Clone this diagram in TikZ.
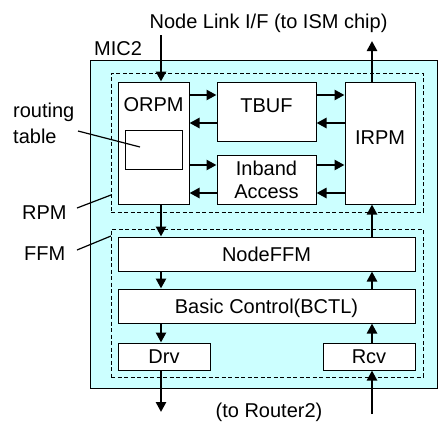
\documentclass[tikz,border=0pt]{standalone}
\usepackage{fontspec}
\setmainfont{Liberation Sans}
\usetikzlibrary{arrows.meta}
\definecolor{miccyan}{RGB}{204,255,255}
\begin{document}
\begin{tikzpicture}[x=1pt,y=-1pt,
  txt/.style={inner sep=0pt, font=\fontsize{20}{23}\selectfont},
  box/.style={txt, draw=black, line width=1pt, fill=white},
  dashbox/.style={draw=black, line width=1pt, dash pattern=on 4pt off 2.5pt, inner sep=0pt},
  flow/.style={line width=2.6pt, -{Triangle[length=10pt,width=10pt]}},
  leader/.style={line width=1.2pt}]
\useasboundingbox (0,0) rectangle (443,423);
% outer MIC2 block
\node[draw=black, line width=1pt, fill=miccyan, inner sep=0pt, minimum width=347pt, minimum height=328pt] (mic) at (263.5,224) {};
% dashed groups
\node[dashbox, minimum width=312pt, minimum height=139pt] (rpm) at (267,142.5) {};
\node[dashbox, minimum width=312pt, minimum height=148pt] (ffm) at (267,303) {};
% RPM blocks
\node[box, minimum width=71pt, minimum height=122pt] (orpm) at (153.5,143) {};
\node[txt, anchor=base] (orpmtxt) at (153.5,111.5) {ORPM};
\node[draw=black, line width=1pt, inner sep=0pt, minimum width=57pt, minimum height=39pt] (rtbox) at (153.5,149.5) {};
\node[box, minimum width=70pt, minimum height=122pt] (irpm) at (380,143) {\raisebox{5pt}[\height][\depth]{IRPM}};
\node[box, minimum width=99pt, minimum height=59pt] (tbuf) at (266.5,111.5) {\raisebox{6pt}[\height][\depth]{TBUF}};
\node[box, minimum width=99pt, minimum height=49pt, align=center] (inband) at (266.5,179.5) {Inband\\Access};
% FFM blocks
\node[box, minimum width=297pt, minimum height=34pt] (nodeffm) at (266.5,254) {NodeFFM};
\node[box, minimum width=297pt, minimum height=34pt, text height=14pt, text depth=0pt] (bctl) at (266.5,306) {Basic Control(BCTL)};
\node[box, minimum width=92pt, minimum height=27pt] (drv) at (164,356.5) {Drv};
\node[box, minimum width=92pt, minimum height=27pt] (rcv) at (369,356.5) {Rcv};
% labels
\node[txt, anchor=base] (nli) at (268.5,28) {Node Link I/F (to ISM chip)};
\node[txt, anchor=base west] (mic2) at (94,55.5) {MIC2};
\node[txt, anchor=base west] (rt1) at (13,117) {routing};
\node[txt, anchor=base west] (rt2) at (13,143) {table};
\node[txt, anchor=base west] (rpmlbl) at (22,219.5) {RPM};
\node[txt, anchor=base west] (ffmlbl) at (24,260.5) {FFM};
\node[txt, anchor=base] (router) at (269,417) {(to Router2)};
% coordinates
\coordinate (lx) at (161,0);
\coordinate (rx) at (372,0);
\coordinate (topin) at (161,35);
\coordinate (topout) at (372,41);
\coordinate (botout) at (161,412);
\coordinate (botin) at (372,414);
\coordinate (y1) at (0,95);
\coordinate (y2) at (0,123);
\coordinate (y3) at (0,165);
\coordinate (y4) at (0,193);
\coordinate (rtstart) at (78,131);
\coordinate (rtend) at (140,147);
\coordinate (rpmstart) at (77,208);
\coordinate (rpmend) at (111,195);
\coordinate (ffmstart) at (77,250);
\coordinate (ffmend) at (111,236);
% horizontal flows
\draw[flow] (orpm.east |- y1) -- (tbuf.west |- y1);
\draw[flow] (tbuf.west |- y2) -- (orpm.east |- y2);
\draw[flow] (tbuf.east |- y1) -- (irpm.west |- y1);
\draw[flow] (irpm.west |- y2) -- (tbuf.east |- y2);
\draw[flow] (orpm.east |- y3) -- (inband.west |- y3);
\draw[flow] (inband.west |- y4) -- (orpm.east |- y4);
\draw[flow] (inband.east |- y3) -- (irpm.west |- y3);
\draw[flow] (irpm.west |- y4) -- (inband.east |- y4);
% vertical flows, left
\draw[flow] (topin) -- (orpm.north -| lx);
\draw[flow] (orpm.south -| lx) -- (nodeffm.north -| lx);
\draw[flow] (nodeffm.south -| lx) -- (bctl.north -| lx);
\draw[flow] (bctl.south -| lx) -- (drv.north -| lx);
\draw[flow] (drv.south -| lx) -- (botout);
% vertical flows, right
\draw[flow] (botin) -- (rcv.south -| rx);
\draw[flow] (rcv.north -| rx) -- (bctl.south -| rx);
\draw[flow] (bctl.north -| rx) -- (nodeffm.south -| rx);
\draw[flow] (nodeffm.north -| rx) -- (irpm.south -| rx);
\draw[flow] (irpm.north -| rx) -- (topout);
% leaders
\draw[leader] (rtstart) -- (rtend);
\draw[leader] (rpmstart) -- (rpmend);
\draw[leader] (ffmstart) -- (ffmend);
\end{tikzpicture}
\end{document}
